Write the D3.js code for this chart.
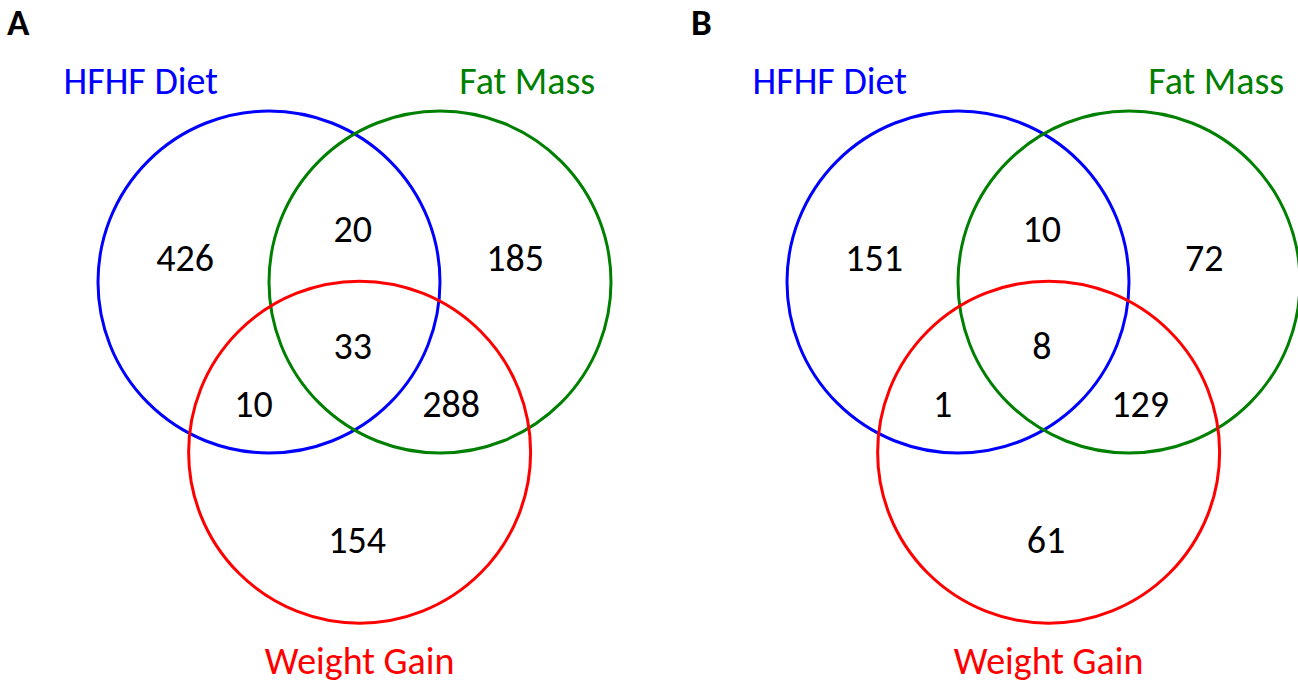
<!DOCTYPE html>
<html><head><meta charset="utf-8">
<script src="https://cdn.jsdelivr.net/npm/d3@7"></script>
<style>body{margin:0;background:#fff;} svg{display:block;}</style>
</head><body>
<script>
const panels = ["A", "B"];
const setNames = ["HFHF Diet", "Fat Mass", "Weight Gain"];
const setColors = ["#0000ff", "#008000", "#ff0000"];
const regionKeys = ["H", "HF", "F", "HFW", "HW", "FW", "W"];
const countsA = [426, 20, 185, 33, 10, 288, 154];
const countsB = [151, 10, 72, 8, 1, 129, 61];
const panelCounts = [countsA, countsB];

const W = 1298, H = 683;
const svg = d3.select("body").append("svg").attr("width", W).attr("height", H);
const font = "Calibri, Carlito, Lato, sans-serif";

// geometry in radius units (layout, not data)
const R = 171;
const circleCenters = [[0, 0], [1.0, 0], [0.53, 0.995]];
const regionPos = {
  H: [-0.49, -0.14], HF: [0.49, -0.31], F: [1.44, -0.14],
  HFW: [0.49, 0.375], HW: [-0.09, 0.715], FW: [1.065, 0.715], W: [0.515, 1.51]
};
const labelPos = [[-0.75, -1.10], [1.51, -1.10], [0.53, 2.29]];
const panelOrigin = [[269, 282], [958, 282]];
const panelLetterX = [7, 691];

panels.forEach((p, i) => {
  const [cx, cy] = panelOrigin[i];
  const x = d3.scaleLinear().domain([0, 1]).range([cx, cx + R]);
  const y = d3.scaleLinear().domain([0, 1]).range([cy, cy + R]);
  const g = svg.append("g");
  g.append("text").attr("class", "letter").attr("x", panelLetterX[i]).attr("y", 35)
    .attr("font-family", font).attr("font-weight", "bold").attr("font-size", 37)
    .text(p);
  g.selectAll("circle").data(setNames).join("circle")
    .attr("cx", (d, k) => x(circleCenters[k][0]))
    .attr("cy", (d, k) => y(circleCenters[k][1]))
    .attr("r", x(1) - x(0))
    .attr("fill", "none").attr("stroke", (d, k) => setColors[k]).attr("stroke-width", 3);
  g.selectAll("text.set").data(setNames).join("text").attr("class", "set")
    .attr("x", (d, k) => x(labelPos[k][0])).attr("y", (d, k) => y(labelPos[k][1]))
    .attr("text-anchor", "middle").attr("fill", (d, k) => setColors[k])
    .attr("font-family", font).attr("font-size", 38).text(d => d);
  g.selectAll("text.cnt").data(panelCounts[i]).join("text").attr("class", "cnt")
    .attr("x", (d, k) => x(regionPos[regionKeys[k]][0]))
    .attr("y", (d, k) => y(regionPos[regionKeys[k]][1]))
    .attr("text-anchor", "middle").attr("dominant-baseline", "central")
    .attr("font-family", font).attr("font-size", 38).text(d => d);
});
</script>
</body></html>
